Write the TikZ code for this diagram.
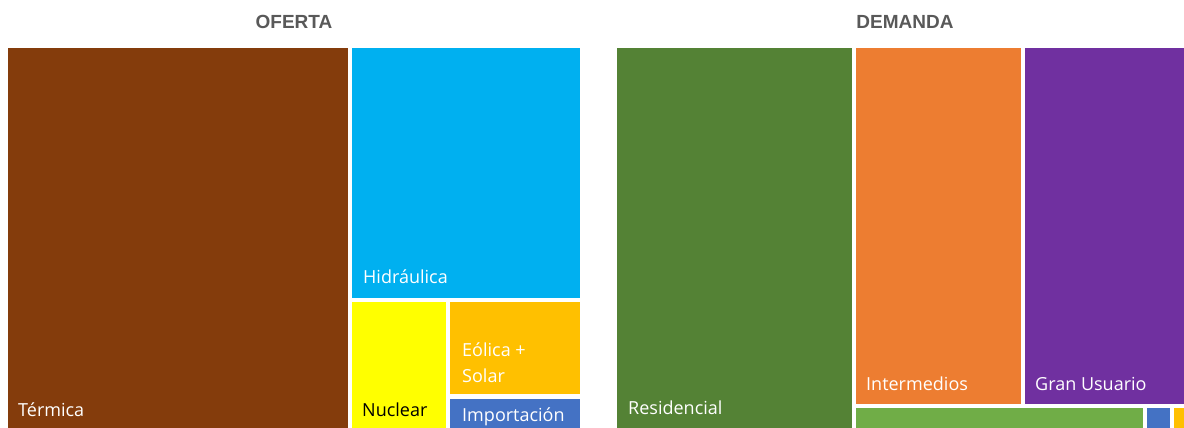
\documentclass[tikz,border=0pt]{standalone}
\usepackage{fontspec}
\setmainfont{Open Sans}
\newfontfamily\titlefont{Liberation Sans}
\definecolor{termica}{HTML}{843C0C}
\definecolor{hidra}{HTML}{00B0F0}
\definecolor{nuclear}{HTML}{FFFF00}
\definecolor{eolica}{HTML}{FFC000}
\definecolor{impor}{HTML}{4472C4}
\definecolor{resid}{HTML}{548235}
\definecolor{inter}{HTML}{ED7D31}
\definecolor{gran}{HTML}{7030A0}
\definecolor{verde}{HTML}{70AD47}
\definecolor{titgray}{HTML}{595959}
\begin{document}
\begin{tikzpicture}[x=1pt,y=-1pt,
  lab/.style={anchor=base west,inner sep=0pt,text=white,font=\fontsize{18}{21}\selectfont},
  ttl/.style={anchor=base,inner sep=0pt,text=titgray,font=\titlefont\bfseries\fontsize{19}{22}\selectfont}]
\useasboundingbox (0,0) rectangle (1184,428);
\fill[white] (0,0) rectangle (1184,428);
% OFERTA
\fill[termica] (8,48) rectangle (348,428);
\fill[hidra] (352,48) rectangle (580,298);
\fill[nuclear] (352,302) rectangle (446,428);
\fill[eolica] (450,302) rectangle (580,394);
\fill[impor] (450,399) rectangle (580,428);
\node[ttl] (tof) at (294,29) {OFERTA};
\node[lab] (ltermica) at (18,416) {Térmica};
\node[lab] (lhidra) at (363,283) {Hidráulica};
\node[lab,text=black] (lnuclear) at (362,416) {Nuclear};
\node[lab] (leolica) at (462,356) {Eólica +};
\node[lab] (lsolar) at (462,382) {Solar};
\node[lab] (limpor) at (462,421) {Importación};
% DEMANDA
\fill[resid] (617,48) rectangle (852,428);
\fill[inter] (856,48) rectangle (1021,404);
\fill[gran] (1025,48) rectangle (1184,404);
\fill[verde] (856,408) rectangle (1143,428);
\fill[impor] (1147,408) rectangle (1170,428);
\fill[eolica] (1174,408) rectangle (1184,428);
\node[ttl] (tdem) at (905,29) {DEMANDA};
\node[lab] (lresid) at (628,414) {Residencial};
\node[lab] (linter) at (866,390) {Intermedios};
\node[lab] (lgran) at (1035,390) {Gran Usuario};
\end{tikzpicture}
\end{document}
